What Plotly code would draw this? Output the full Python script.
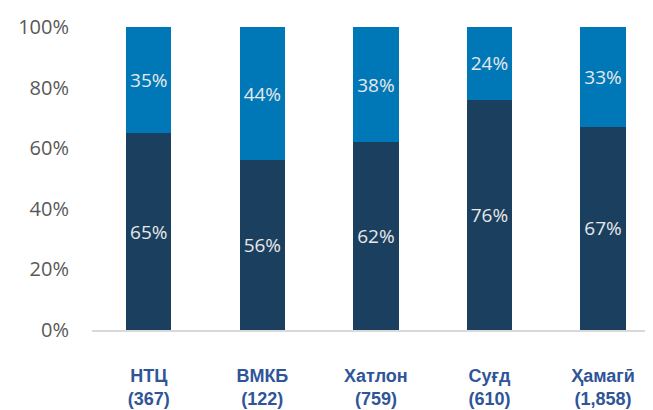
import plotly.graph_objects as go

regions = ['НТЦ', 'ВМКБ', 'Хатлон', 'Суғд', 'Ҳамагӣ']
counts = ['367', '122', '759', '610', '1,858']
share_dark = [0.65, 0.56, 0.62, 0.76, 0.67]
share_light = [0.35, 0.44, 0.38, 0.24, 0.33]

DARK = '#1B3F5F'
BLUE = '#0078B8'
TXT = '#E8E8E8'

x = list(range(len(regions)))
labels = ['<b>{}<br>({})</b>'.format(r, c) for r, c in zip(regions, counts)]


def pct(vals):
    return ['{:.0f}%'.format(v * 100) for v in vals]


fig = go.Figure()
fig.add_trace(go.Bar(
    x=x, y=share_dark, marker=dict(color=DARK, line=dict(width=0)),
    text=pct(share_dark), textposition='inside', insidetextanchor='middle',
    textfont=dict(color=TXT, size=19, family='Open Sans'), width=0.4,
))
fig.add_trace(go.Bar(
    x=x, y=share_light, marker=dict(color=BLUE, line=dict(width=0)),
    text=pct(share_light), textposition='inside', insidetextanchor='middle',
    textfont=dict(color=TXT, size=19, family='Open Sans'), width=0.4,
))

# page body has an 8px margin, so the figure is shrunk by that much
fig.update_layout(
    barmode='stack',
    width=645, height=402,
    margin=dict(l=84, r=0, t=19, b=80),
    paper_bgcolor='white', plot_bgcolor='white',
    showlegend=False,
    uniformtext=dict(minsize=10, mode='show'),
    xaxis=dict(
        range=[-0.5, 4.44], tickmode='array', tickvals=x, ticktext=labels,
        showline=True, linecolor='#D9D9D9', linewidth=2, showgrid=False,
        ticks='', ticklabelstandoff=28,
        tickfont=dict(family='Liberation Sans', size=18, color='#2F5597'),
    ),
    yaxis=dict(
        range=[0, 1], tickvals=[0, 0.2, 0.4, 0.6, 0.8, 1.0], tickformat='.0%',
        showgrid=False, zeroline=False, showline=False, ticks='',
        ticklabelstandoff=22,
        tickfont=dict(family='Open Sans', size=20, color='#595959'),
    ),
)

fig.write_html('out.html')
